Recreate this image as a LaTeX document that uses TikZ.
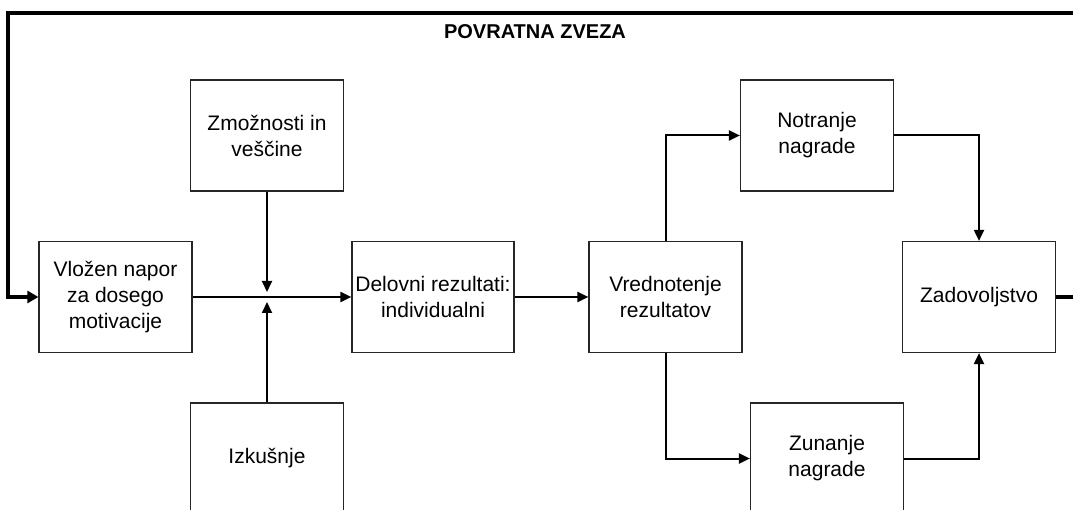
\documentclass[tikz,border=0pt]{standalone}
\usepackage{fontspec}
\setmainfont{Liberation Sans}
\usetikzlibrary{arrows.meta}
\begin{document}
\begin{tikzpicture}[x=1pt,y=-1pt,
  box/.style={draw=black!85,line width=1.2pt,minimum width=153pt,minimum height=111pt,
    inner sep=0pt,align=center,font=\fontsize{21}{26}\selectfont},
  conn/.style={line width=2pt,-{Triangle[length=11pt,width=10pt]}},
  fb/.style={line width=4pt,-{Triangle[length=11pt,width=12pt]}}]
\clip (0,0) rectangle (1073,510);
\fill[white] (0,0) rectangle (1073,510);
\node[box] (vlozen) at (115.5,297) {Vložen napor\\za dosego\\motivacije};
\node[box] (zmoz) at (267,135.5) {Zmožnosti in\\veščine};
\node[box] (izk) at (267,458.5) {Izkušnje};
\node[box,minimum width=162pt] (delo) at (433,297) {Delovni rezultati:\\individualni};
\node[box] (vred) at (665.5,297) {Vrednotenje\\rezultatov};
\node[box] (notr) at (817,135.5) {Notranje\\nagrade};
\node[box] (zun) at (827,458.5) {Zunanje\\nagrade};
\node[box] (zad) at (979,297) {Zadovoljstvo};
\node[font=\bfseries\fontsize{20}{24}\selectfont] (title) at (535,32) {POVRATNA ZVEZA};
\coordinate (j) at (267,297);
\coordinate (fbr) at (1083,297);
\coordinate (fbtr) at (1083,13);
\coordinate (fbtl) at (8,13);
\draw[conn] (vlozen.east) -- (delo.west);
\draw[conn,shorten >=5pt] (zmoz.south) -- (j);
\draw[conn,shorten >=5pt] (izk.north) -- (j);
\draw[conn] (delo.east) -- (vred.west);
\draw[conn] (vred.north) |- (notr.west);
\draw[conn] (vred.south) |- (zun.west);
\draw[conn] (notr.east) -| (zad.north);
\draw[conn] (zun.east) -| (zad.south);
\draw[fb] (zad.east) -- (fbr) -- (fbtr) -- (fbtl) |- (vlozen.west);
\end{tikzpicture}
\end{document}
